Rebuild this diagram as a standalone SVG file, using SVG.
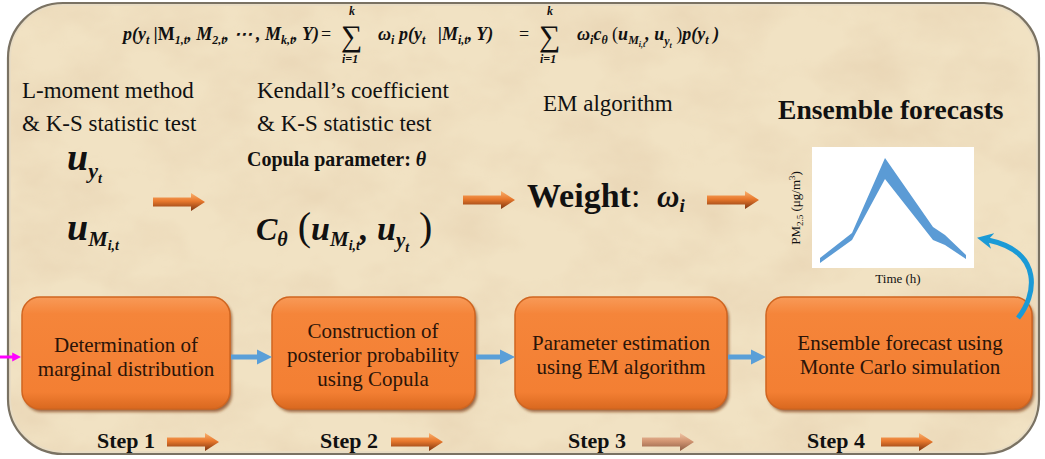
<svg xmlns="http://www.w3.org/2000/svg" xmlns:xlink="http://www.w3.org/1999/xlink" width="1045" height="459" viewBox="0 0 1045 459">
<style>
.tr{font-family:"Liberation Serif","Times New Roman",serif;fill:#111}
.txt{font-family:"Liberation Serif","Times New Roman",serif;font-size:23px;fill:#111}
.bt{font-family:"Liberation Serif","Times New Roman",serif;font-weight:bold;fill:#111}
.mi{font-family:"Liberation Serif","Times New Roman",serif;font-weight:bold;font-style:italic;fill:#111}
.bx{font-family:"Liberation Serif","Times New Roman",serif;font-size:21px;fill:#2b1408;text-anchor:middle}
.step{font-family:"Liberation Serif","Times New Roman",serif;font-weight:bold;font-size:22px;fill:#111}
.blue{stroke:#5a9fd8;stroke-width:5;fill:none}
</style>
<defs>
<linearGradient id="og" x1="0" y1="0" x2="0" y2="1">
<stop offset="0" stop-color="#f9b06e"/><stop offset="0.45" stop-color="#e8782c"/><stop offset="1" stop-color="#7e3510"/>
</linearGradient>
<linearGradient id="tg" x1="0" y1="0" x2="0" y2="1">
<stop offset="0" stop-color="#f0c6a6"/><stop offset="0.45" stop-color="#d29572"/><stop offset="1" stop-color="#8e5e44"/>
</linearGradient>
<linearGradient id="boxg" x1="0" y1="0" x2="0" y2="1">
<stop offset="0" stop-color="#f89a58"/><stop offset="0.15" stop-color="#f5853a"/><stop offset="0.85" stop-color="#f37f33"/><stop offset="1" stop-color="#d9681f"/>
</linearGradient>
<filter id="shadow" x="-10%" y="-10%" width="120%" height="130%"><feGaussianBlur stdDeviation="1.5"/></filter>
<filter id="paper" x="0" y="0" width="100%" height="100%">
<feTurbulence type="fractalNoise" baseFrequency="0.012 0.018" numOctaves="4" seed="7" result="n"/>
<feColorMatrix in="n" type="matrix" values="0 0 0 0 0.78  0 0 0 0 0.62  0 0 0 0 0.42  1.1 0 0 0 -0.42" result="c"/>
<feComposite in="c" in2="SourceGraphic" operator="in"/>
</filter>
<path id="oa" d="M0,-4.5 L38,-4.5 L38,-9 L52,0 L38,9 L38,4.5 L0,4.5 Z"/>
<marker id="bh" viewBox="0 0 10 10" refX="2" refY="5" markerWidth="3" markerHeight="3.4" orient="auto" markerUnits="strokeWidth">
<path d="M0,0 L10,5 L0,10 Z" fill="#5a9fd8"/>
</marker>
<marker id="mh" viewBox="0 0 10 10" refX="2" refY="5" markerWidth="3" markerHeight="3.4" orient="auto" markerUnits="strokeWidth">
<path d="M0,0 L10,5 L0,10 Z" fill="#ff00ff"/>
</marker>
<marker id="ch" viewBox="0 0 10 10" refX="3" refY="5" markerWidth="3.2" markerHeight="3.2" orient="auto" markerUnits="strokeWidth">
<path d="M0,0 L10,5 L0,10 L3,5 Z" fill="#1b9ad6"/>
</marker>
</defs>
<rect width="1045" height="459" fill="#ffffff"/>
<g id="frame">
<rect x="8" y="3" width="1031" height="451" rx="55" fill="#f1e2c3"/>
<rect x="8" y="3" width="1031" height="451" rx="55" fill="#000" filter="url(#paper)"/>
<rect x="10" y="5" width="1027" height="447" rx="53" fill="none" stroke="#e8dcc4" stroke-width="2"/>
<rect x="8" y="3" width="1031" height="451" rx="55" fill="none" stroke="#7a7263" stroke-width="2.2"/>
</g>
<g id="formula">
<text class="mi" x="123" y="40" font-size="18">p(y<tspan font-size="12" dy="4">t</tspan><tspan dy="-4"> |</tspan><tspan font-style="normal">M</tspan><tspan font-size="12" dy="4">1,t</tspan><tspan dy="-4">, M</tspan><tspan font-size="12" dy="4">2,t</tspan><tspan dy="-4">, ⋯ , M</tspan><tspan font-size="12" dy="4">k,t</tspan><tspan dy="-4">, Y)</tspan></text>
<text class="tr" x="321" y="40" font-size="18">=</text>
<text class="tr" x="341" y="46" font-size="30">∑</text>
<text class="mi" x="349" y="15" font-size="12">k</text>
<text class="mi" x="342" y="63" font-size="12">i=1</text>
<text class="mi" x="378" y="40" font-size="18">ω<tspan font-size="12" dy="4">i</tspan><tspan x="399" dy="-4">p(y</tspan><tspan font-size="12" dy="4">t</tspan><tspan x="438" dy="-4">|M</tspan><tspan font-size="12" dy="4">i,t</tspan><tspan dy="-4">, Y)</tspan></text>
<text class="tr" x="519" y="40" font-size="18">=</text>
<text class="tr" x="539" y="46" font-size="30">∑</text>
<text class="mi" x="547" y="15" font-size="12">k</text>
<text class="mi" x="540" y="63" font-size="12">i=1</text>
<text class="mi" x="577" y="40" font-size="18">ω<tspan font-size="12" dy="4">i</tspan><tspan dy="-4">c</tspan><tspan font-size="12" dy="4">θ</tspan><tspan dy="-4" font-style="normal" font-weight="normal"> (</tspan><tspan>u</tspan><tspan font-size="12" dy="4">M</tspan><tspan font-size="8" dy="3">i,t</tspan><tspan dy="-7">, u</tspan><tspan font-size="12" dy="5">y</tspan><tspan font-size="8" dy="3">t</tspan><tspan dy="-8" font-style="normal" font-weight="normal"> )</tspan><tspan>p(y</tspan><tspan font-size="12" dy="4">t</tspan><tspan dy="-4"> )</tspan></text>
</g>
<g id="col1">
<text class="txt" x="22" y="98">L-moment method</text>
<text class="txt" x="22" y="131">&amp; K-S statistic test</text>
<text class="mi" x="67" y="170" font-size="38">u<tspan font-size="22" dy="8">y</tspan><tspan font-size="14" dy="5">t</tspan></text>
<text class="mi" x="67" y="240" font-size="38">u<tspan font-size="22" dy="6">M</tspan><tspan font-size="14" dy="4">i,t</tspan></text>
</g>
<g id="col2">
<text class="txt" x="257" y="98">Kendall’s coefficient</text>
<text class="txt" x="257" y="131">&amp; K-S statistic test</text>
<text class="bt" x="247" y="166" font-size="20">Copula parameter: <tspan font-style="italic">θ</tspan></text>
<text class="mi" x="256" y="240" font-size="32">C<tspan font-size="20" dy="6">θ</tspan><tspan dy="-6" font-style="normal" font-weight="normal" font-size="40"> (</tspan><tspan font-size="34">u</tspan><tspan font-size="21" dy="6">M</tspan><tspan font-size="14" dy="4">i,t</tspan><tspan font-size="34" dy="-10">, u</tspan><tspan font-size="21" dy="7">y</tspan><tspan font-size="14" dy="5">t</tspan><tspan dy="-12" font-style="normal" font-weight="normal" font-size="40"> )</tspan></text>
</g>
<g id="col3">
<text class="txt" x="543" y="111">EM algorithm</text>
<text class="bt" x="527" y="207" font-size="34">Weight<tspan font-weight="normal">:</tspan></text>
<text class="mi" x="657" y="207" font-size="31">ω<tspan font-size="19" dy="5">i</tspan></text>
</g>
<g id="col4">
<text class="bt" x="778" y="119" font-size="27.6">Ensemble forecasts</text>
<rect x="812" y="147" width="162" height="121" fill="#ffffff"/>
<path d="M820,258 L852,233 L885,158 L933,227 L945,235 L966,255 L966,259 L945,245 L933,240 L885,179 L852,240 L820,263 Z" fill="#5b9bd5"/>
<text class="tr" x="898" y="283" font-size="13" text-anchor="middle">Time (h)</text>
<text class="tr" font-size="13" text-anchor="middle" transform="translate(800,208) rotate(-90)">PM<tspan font-size="9" dy="3">2.5</tspan><tspan dy="-3"> (μg/m</tspan><tspan font-size="9" dy="-5">3</tspan><tspan dy="5">)</tspan></text>
</g>
<g id="box1">
<rect x="24" y="300" width="208" height="112" rx="18" fill="#7a3510" opacity="0.7" filter="url(#shadow)"/>
<rect x="22" y="297" width="208" height="112" rx="18" fill="url(#boxg)" stroke="#d06520" stroke-width="1.5"/>
<text class="bx" x="126" y="352">Determination of</text>
<text class="bx" x="126" y="376">marginal distribution</text>
</g>
<g id="box2">
<rect x="274" y="300" width="203" height="112" rx="18" fill="#7a3510" opacity="0.7" filter="url(#shadow)"/>
<rect x="272" y="297" width="203" height="112" rx="18" fill="url(#boxg)" stroke="#d06520" stroke-width="1.5"/>
<text class="bx" x="373" y="338">Construction of</text>
<text class="bx" x="373" y="362">posterior probability</text>
<text class="bx" x="373" y="386">using Copula</text>
</g>
<g id="box3">
<rect x="517" y="300" width="212" height="112" rx="18" fill="#7a3510" opacity="0.7" filter="url(#shadow)"/>
<rect x="515" y="297" width="212" height="112" rx="18" fill="url(#boxg)" stroke="#d06520" stroke-width="1.5"/>
<text class="bx" x="621" y="350">Parameter estimation</text>
<text class="bx" x="621" y="374">using EM algorithm</text>
</g>
<g id="box4">
<rect x="768" y="300" width="266" height="112" rx="18" fill="#7a3510" opacity="0.7" filter="url(#shadow)"/>
<rect x="766" y="297" width="266" height="112" rx="18" fill="url(#boxg)" stroke="#d06520" stroke-width="1.5"/>
<text class="bx" x="900" y="350">Ensemble forecast using</text>
<text class="bx" x="900" y="374">Monte Carlo simulation</text>
</g>
<g id="steps">
<text class="step" x="97" y="448">Step 1</text>
<text class="step" x="320" y="448">Step 2</text>
<text class="step" x="568" y="448">Step 3</text>
<text class="step" x="807" y="448">Step 4</text>
</g>
<g id="connectors">
<use href="#oa" x="153" y="202" fill="url(#og)"/>
<use href="#oa" x="463" y="200" fill="url(#og)"/>
<use href="#oa" x="707" y="200" fill="url(#og)"/>
<use href="#oa" x="167" y="442" fill="url(#og)"/>
<use href="#oa" x="391" y="442" fill="url(#og)"/>
<use href="#oa" x="642" y="442" fill="url(#tg)"/>
<use href="#oa" x="881" y="442" fill="url(#og)"/>
<line x1="0" y1="357" x2="14" y2="357" stroke="#ff00ff" stroke-width="3" marker-end="url(#mh)"/>
<line class="blue" x1="231" y1="357" x2="260" y2="357" marker-end="url(#bh)"/>
<line class="blue" x1="476" y1="357" x2="503" y2="357" marker-end="url(#bh)"/>
<line class="blue" x1="728" y1="357" x2="754" y2="357" marker-end="url(#bh)"/>
<path d="M1018,318 C1036,296 1044,252 988,240" fill="none" stroke="#1b9ad6" stroke-width="5" marker-end="url(#ch)"/>
</g>
</svg>
